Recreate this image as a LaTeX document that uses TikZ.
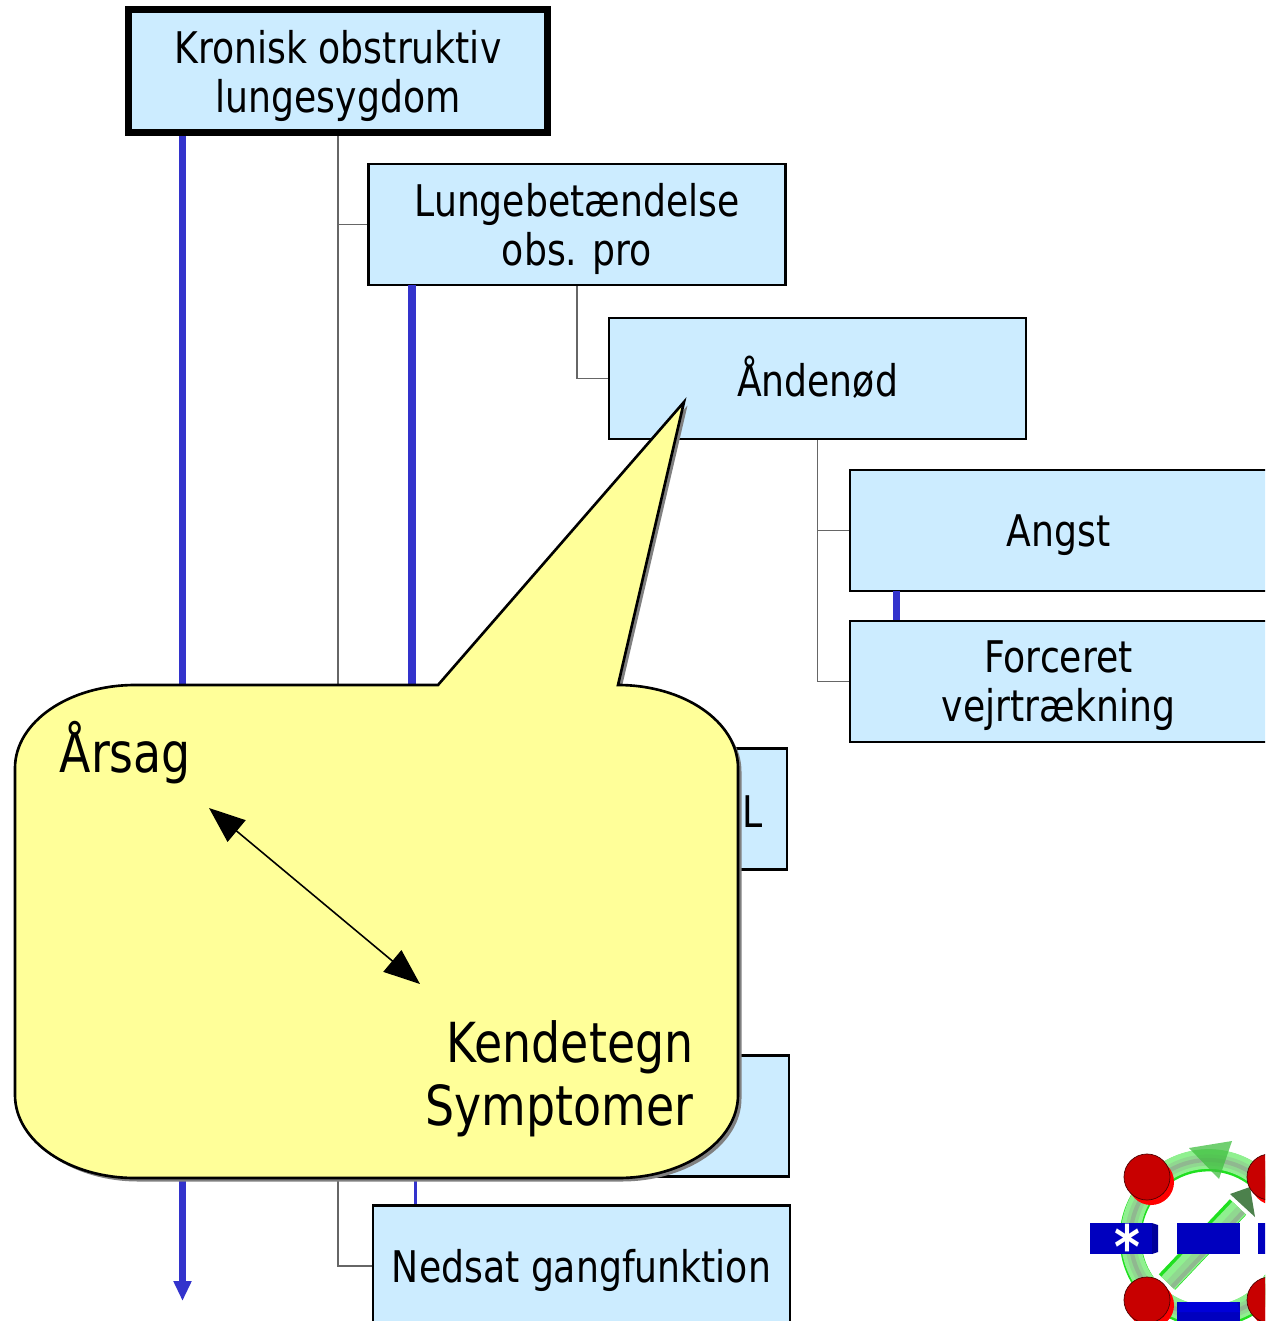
\documentclass[tikz,border=0pt]{standalone}
\usepackage{fontspec}
\setmainfont{DejaVu Sans}[FakeStretch=0.83]
\usetikzlibrary{arrows.meta}
\definecolor{boxblue}{HTML}{CCECFF}
\definecolor{linkblue}{HTML}{3333CC}
\definecolor{notefill}{HTML}{FFFF99}
\definecolor{ringgreen}{HTML}{90F090}
\definecolor{ringedge}{HTML}{20E020}
\definecolor{ringmid}{HTML}{90D890}
\definecolor{ringcore}{HTML}{90B890}
\definecolor{dotred}{HTML}{C80000}
\definecolor{dotrim}{HTML}{FF0000}
\definecolor{barblue}{HTML}{0000BF}
\tikzset{
  conceptbox/.style={draw=black, line width=0.75pt, fill=boxblue, minimum width=4.17cm, minimum height=1.21cm, inner sep=0pt, text depth=0pt, align=center, font=\fontsize{12.4}{13.9}\selectfont},
  rootbox/.style={conceptbox, line width=2pt, minimum width=4.19cm, minimum height=1.23cm},
  isalink/.style={gray!80!black, line width=0.3pt},
  causelink/.style={linkblue, line width=2pt},
  notetext/.style={inner sep=0pt, align=right, font=\fontsize{15.7}{18}\selectfont},
  dot/.style={circle, inner sep=0pt, minimum size=0.46cm, fill=dotred, draw=black!60!dotred, line width=0.2pt},
  dotback/.style={circle, inner sep=0pt, minimum size=0.46cm, fill=dotrim},
  bar/.style={fill=barblue, inner sep=0pt, minimum height=0.31cm}
}
\begin{document}
\begin{tikzpicture}[x=0.01cm, y=-0.01cm]
	\useasboundingbox (0,0) rectangle (1265,1321);
	\clip (0,0) rectangle (1265,1321);

	\node [rootbox] at (338, 71) (rootBox) {Kronisk obstruktiv\\lungesygdom};
	\node [conceptbox] at (577, 224.5) (lungeBox) {Lungebetændelse\\obs. pro};
	\node [conceptbox, text depth=1pt] at (817.5, 378.5) (andenodBox) {Åndenød};
	\node [conceptbox] at (1058.5, 530.5) (angstBox) {Angst};
	\node [conceptbox] at (1058.5, 681.5) (forceretBox) {Forceret\\vejrtrækning};
	\node [conceptbox] at (578.5, 809) (lBox) {};
	\node [conceptbox] at (580.5, 1116) (lowerBox) {};
	\node [conceptbox] at (581.5, 1266) (nedsatBox) {Nedsat gangfunktion};
	\node [inner sep=0pt, font=\fontsize{12.4}{13.9}\selectfont] at (753, 812) (lText) {L};

	\coordinate (causeEnd) at (182.5, 1301);
	\coordinate (lungeCause) at (412, 285);
	\coordinate (lowerCause) at (415.5, 1177);
	\coordinate (angstCause) at (896.5, 591);

	\draw [isalink] (rootBox.south) |- (lungeBox.west);
	\draw [isalink] (rootBox.south) |- (nedsatBox.west);
	\draw [isalink] (lungeBox.south) |- (andenodBox.west);
	\draw [isalink] (andenodBox.south) |- (angstBox.west);
	\draw [isalink] (andenodBox.south) |- (forceretBox.west);

	\draw [causelink, -{Triangle[length=0.2cm, width=0.17cm]}] (causeEnd |- rootBox.south) -- (causeEnd);
	\draw [causelink] (lungeCause) -- (lungeCause |- lBox.north);
	\draw [linkblue, line width=0.6pt] (lowerCause) -- (lowerCause |- nedsatBox.north);
	\draw [causelink] (angstCause) -- (angstCause |- forceretBox.north);

	% speech bubble
	\def\notepath{(135,685) -- (438,685) -- (684,402) -- (618,685)
		.. controls (684,685) and (738,722) .. (738,768) -- (738,1095)
		.. controls (738,1141) and (684,1178) .. (618,1178) -- (135,1178)
		.. controls (69,1178) and (15,1141) .. (15,1095) -- (15,768)
		.. controls (15,722) and (69,685) .. (135,685) -- cycle}
	\fill [gray, shift={(3.5,3.5)}] \notepath;
	\draw [black, fill=notefill, line width=0.75pt, line join=miter] \notepath;

	\node [notetext, anchor=base west] at (59, 772) (arsagText) {Årsag};
	\node [notetext, anchor=base east] at (694, 1062) (kendetegnText) {Kendetegn};
	\node [notetext, anchor=base east] at (694, 1125) (symptomerText) {Symptomer};
	\coordinate (arsagEnd) at (209, 808);
	\coordinate (kendetegnEnd) at (420, 984);
	\draw [black, line width=0.45pt, {Triangle[length=0.36cm, width=0.28cm]}-{Triangle[length=0.36cm, width=0.28cm]}] (arsagEnd) -- (kendetegnEnd);

	% logo
	\draw [ringedge, line width=6.2pt] (1208.5,1238.5) circle (78);
	\draw [ringgreen, line width=5.6pt] (1208.5,1237) circle (78);
	\draw [ringmid, line width=3.2pt] (1208.5,1238) circle (78);
	\draw [ringcore, line width=1.2pt] (1208.5,1238) circle (78);
	\draw [ringedge, line width=6.4pt] (1167,1282) -- (1238,1207);
	\draw [ringgreen, line width=5.2pt] (1168,1283) -- (1239,1208);
	\draw [ringmid, line width=3pt] (1170,1285) -- (1241,1210);
	\draw [ringcore, line width=1.2pt] (1172,1287) -- (1243,1212);
	\fill [green!50!gray, opacity=0.75] (1189,1148) -- (1232,1141) -- (1219,1179) -- cycle;
	\fill [green!30!black, opacity=0.7] (1230,1194) -- (1250,1187) -- (1255,1217) -- cycle;

	\foreach \dotname/\dotx/\doty in {dotA/1147/1177, dotB/1270/1177, dotC/1147/1300, dotD/1270/1300} {
		\node [dotback] at (\dotx+4, \doty+5) {};
		\node [dot] at (\dotx, \doty) (\dotname) {};
	}

	\node [bar, minimum width=0.62cm] at (1121, 1238.5) (barOne) {};
	\fill [barblue!80!black] (1152,1223) -- (1158,1225) -- (1158,1252) -- (1152,1254) -- cycle;
	\node [bar, minimum width=0.63cm] at (1208.5, 1238.5) (barTwo) {};
	\node [bar, minimum width=0.63cm] at (1290, 1238.5) (barThree) {};
	\node [bar, minimum width=0.63cm, minimum height=0.2cm] at (1208.5, 1312) (barFour) {};
	\fill [blue!85!black] (1180,1302) -- (1237,1302) -- (1240,1312) -- (1177,1312) -- cycle;
	\node [inner sep=0pt, text=white, font=\fontsize{17}{17}\selectfont\bfseries] at (1127, 1246) (starText) {*};
\end{tikzpicture}
\end{document}
